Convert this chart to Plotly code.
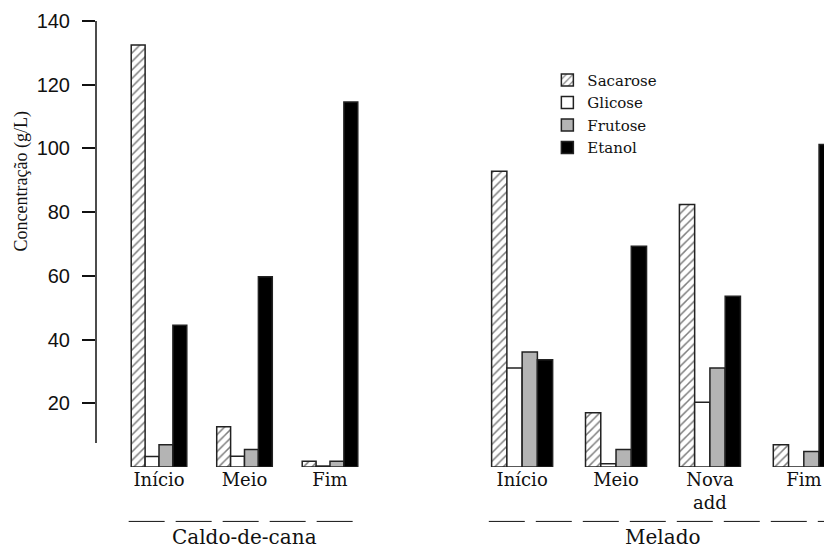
import plotly.graph_objects as go

# ---- data ----
group_names = ["Caldo-de-cana", "Melado"]
stages_caldo = ["Início", "Meio", "Fim"]
stages_melado = ["Início", "Meio", "Nova<br>add", "Fim"]

series_names = ["Sacarose", "Glicose", "Frutose", "Etanol"]
caldo = {
    "Sacarose": [132.5, 12.6, 1.8],
    "Glicose": [3.3, 3.4, 0.3],
    "Frutose": [7.0, 5.5, 1.8],
    "Etanol": [44.5, 59.7, 114.6],
}
melado = {
    "Sacarose": [92.8, 17.0, 82.4, 7.0],
    "Glicose": [31.1, 1.0, 20.3, 0.0],
    "Frutose": [36.1, 5.5, 31.1, 4.9],
    "Etanol": [33.7, 69.3, 53.6, 101.2],
}
y_ticks = [20, 40, 60, 80, 100, 120, 140]

# ---- styling ----
SERIF = "DejaVu Serif"
INK = "#111111"
LINE = "#222222"
styles = {
    "Sacarose": dict(color="white", pattern=dict(shape="/", fgcolor="#000000", bgcolor="white",
                                                  size=6, solidity=0.25)),
    "Glicose": dict(color="white"),
    "Frutose": dict(color="#b4b4b4"),
    "Etanol": dict(color="black"),
}
BARGAP = 0.35

fig = go.Figure()
for name in series_names:
    mk = dict(styles[name])
    mk["line"] = dict(color=LINE, width=1.5)
    fig.add_trace(go.Bar(name=name, legendgroup=name, x=stages_caldo, y=caldo[name],
                         marker=mk, xaxis="x", yaxis="y"))
    fig.add_trace(go.Bar(name=name, legendgroup=name, showlegend=False,
                         x=stages_melado, y=melado[name], marker=mk,
                         xaxis="x2", yaxis="y"))

half_group = (1 - BARGAP) / 2
shapes = []
annotations = []
for axis, cats, gname in (("x", stages_caldo, group_names[0]), ("x2", stages_melado, group_names[1])):
    n = len(cats)
    shapes.append(dict(type="line", xref=axis, yref="paper",
                       x0=-half_group - 0.03, x1=n - 1 + half_group,
                       y0=-0.122, y1=-0.122,
                       line=dict(color=INK, width=1, dash="36px,11px")))
    annotations.append(dict(text=gname, xref=axis, yref="paper",
                            x=(n - 1) / 2, y=-0.158, xanchor="center", yanchor="middle",
                            showarrow=False, font=dict(family=SERIF, size=20, color=INK)))

# y axis line (from just above the baseline up to the top tick)
shapes.append(dict(type="line", xref="paper", yref="y", x0=0, x1=0, y0=7.5, y1=140,
                   line=dict(color=INK, width=1.5)))

annotations.append(dict(text="Concentração (g/L)", xref="paper", yref="paper",
                        x=0, xshift=-74, y=0.64, textangle=-90,
                        xanchor="center", yanchor="middle", showarrow=False,
                        font=dict(family="Liberation Serif", size=18, color=INK)))

xcommon = dict(type="category", ticks="", showline=False, showgrid=False, zeroline=False,
               tickfont=dict(family=SERIF, size=18, color=INK), anchor="y")

fig.update_layout(
    width=824, height=549,
    margin=dict(l=96, r=0, t=21, b=82),
    paper_bgcolor="white", plot_bgcolor="white",
    barmode="group", bargap=BARGAP, bargroupgap=0,
    showlegend=True,
    legend=dict(x=0.62, y=0.904, xanchor="left", yanchor="top",
                font=dict(family=SERIF, size=15, color=INK),
                bgcolor="rgba(0,0,0,0)", traceorder="normal"),
    shapes=shapes,
    annotations=annotations,
    xaxis=dict(xcommon, domain=[0, 0.4176], range=[-0.737, 2.819]),
    xaxis2=dict(xcommon, domain=[0.4725, 1], range=[-0.875, 3.215]),
    yaxis=dict(range=[0, 140], tickmode="array", tickvals=y_ticks,
               ticks="outside", ticklen=13, tickwidth=1.5, tickcolor=INK,
               ticklabelstandoff=8,
               showline=False, showgrid=False, zeroline=False,
               tickfont=dict(family="Liberation Sans", size=20, color=INK)),
)

fig.write_html("out.html", config={"displayModeBar": False},
               post_script="document.body.style.margin='0px';")
